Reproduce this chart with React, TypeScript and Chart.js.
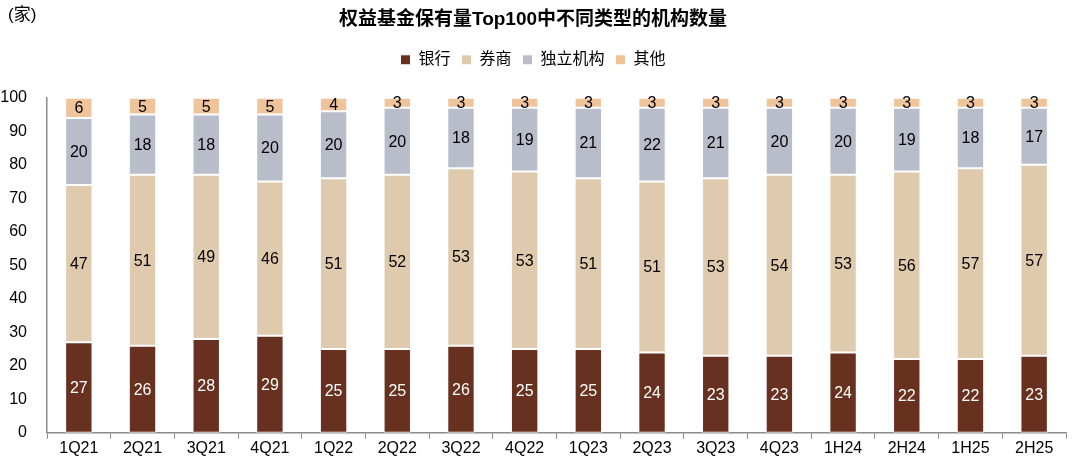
import React, { useEffect, useRef } from "react";
import { Chart, registerables } from "chart.js";

Chart.register(...registerables);

const categories = ["1Q21", "2Q21", "3Q21", "4Q21", "1Q22", "2Q22", "3Q22", "4Q22", "1Q23", "2Q23", "3Q23", "4Q23", "1H24", "2H24", "1H25", "2H25"];
const banks = [27, 26, 28, 29, 25, 25, 26, 25, 25, 24, 23, 23, 24, 22, 22, 23];
const brokers = [47, 51, 49, 46, 51, 52, 53, 53, 51, 51, 53, 54, 53, 56, 57, 57];
const independents = [20, 18, 18, 20, 20, 20, 18, 19, 21, 22, 21, 20, 20, 19, 18, 17];
const others = [6, 5, 5, 5, 4, 3, 3, 3, 3, 3, 3, 3, 3, 3, 3, 3];
const seriesNames = ["银行", "券商", "独立机构", "其他"];
const yTicks = [0, 10, 20, 30, 40, 50, 60, 70, 80, 90, 100];

const FONT = "'Liberation Sans', 'Noto Sans CJK SC', Arial, sans-serif";

const labelPlugin = {
  id: "segLabels",
  afterDatasetsDraw(chart: any) {
    const ctx = chart.ctx;
    ctx.save();
    ctx.font = `16px ${FONT}`;
    ctx.textAlign = "center";
    ctx.textBaseline = "middle";
    chart.data.datasets.forEach((ds: any, di: number) => {
      const meta = chart.getDatasetMeta(di);
      meta.data.forEach((bar: any, i: number) => {
        const v = ds.data[i];
        const y = (bar.y + bar.base) / 2;
        ctx.fillStyle = di === 0 ? "#ffffff" : "#000000";
        ctx.fillText(String(v), bar.x, y + 1);
      });
    });
    ctx.restore();
  },
};

const unitPlugin = {
  id: "unitLabel",
  afterDraw(chart: any) {
    const ctx = chart.ctx;
    ctx.save();
    ctx.font = `17px ${FONT}`;
    ctx.fillStyle = "#000";
    ctx.textAlign = "left";
    ctx.textBaseline = "middle";
    ctx.fillText("(家)", 8, 15);
    ctx.restore();
  },
};

const legendSpacePlugin = {
  id: "legendSpace",
  beforeInit(chart: any) {
    const lg = chart.legend;
    if (!lg) return;
    const orig = lg.fit;
    lg.fit = function () {
      orig.call(this);
      this.height += 20;
    };
  },
};

export default function App() {
  const ref = useRef<HTMLCanvasElement>(null);
  useEffect(() => {
    if (!ref.current) return;
    const colors = ["#67301F", "#E0CAAE", "#B9BCC9", "#EFC49A"];
    const values = [banks, brokers, independents, others];
    const chart = new Chart(ref.current, {
      type: "bar",
      data: {
        labels: categories,
        datasets: values.map((d, i) => ({
          label: seriesNames[i],
          data: d,
          backgroundColor: colors[i],
          borderColor: "#ffffff",
          borderWidth: 1,
          borderSkipped: false,
          categoryPercentage: 1,
          barPercentage: 0.43,
        })),
      },
      options: {
        animation: false,
        responsive: false,
        maintainAspectRatio: false,
        layout: { padding: { left: 0, right: 14, top: 0, bottom: 11 } },
        plugins: {
          title: {
            display: true,
            text: "权益基金保有量Top100中不同类型的机构数量",
            color: "#000",
            font: { family: FONT, size: 19, weight: "bold" },
            padding: { top: 8, bottom: 10 },
          },
          legend: {
            display: true,
            labels: {
              color: "#000",
              font: { family: FONT, size: 16 },
              boxWidth: 10,
              boxHeight: 10,
              padding: 11,
              useBorderRadius: false,
            },
          },
          tooltip: { enabled: false },
        },
        scales: {
          x: {
            stacked: true,
            grid: { display: true, drawOnChartArea: false, drawTicks: true, tickLength: 6, color: "#8c8c8c", offset: true },
            border: { display: true, color: "#8c8c8c", width: 1.5 },
            ticks: { color: "#000", font: { family: FONT, size: 16 }, padding: 0 },
          },
          y: {
            stacked: true,
            min: 0,
            max: 100,
            afterBuildTicks(axis: any) {
              axis.ticks = yTicks.map((v) => ({ value: v }));
            },
            afterFit(axis: any) {
              axis.width = 47;
            },
            grid: { display: false, drawTicks: false },
            border: { display: true, color: "#8c8c8c", width: 1.5 },
            ticks: { color: "#000", font: { family: FONT, size: 16 }, padding: 20 },
          },
        },
      },
      plugins: [labelPlugin, unitPlugin, legendSpacePlugin],
    });
    return () => chart.destroy();
  }, []);
  return (
    <div style={{ position: "fixed", left: 0, top: 0, width: 1080, height: 469, background: "#fff" }}>
      <canvas ref={ref} width={1080} height={469} style={{ width: 1080, height: 469 }} />
    </div>
  );
}
